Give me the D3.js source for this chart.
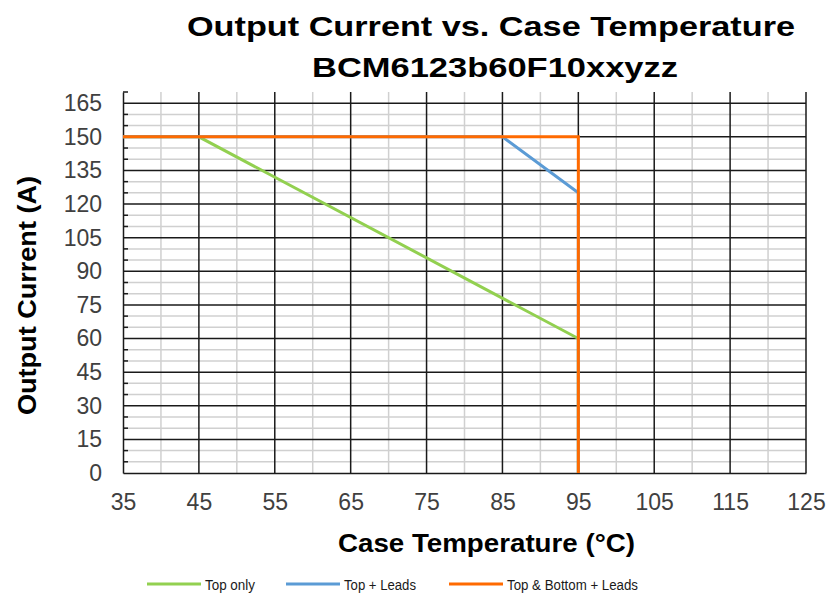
<!DOCTYPE html>
<html>
<head>
<meta charset="utf-8">
<script src="https://cdn.jsdelivr.net/npm/d3@7"></script>
<style>
  body { margin: 0; background: #fff; }
  text { font-family: "Liberation Sans", Arial, sans-serif; }
</style>
</head>
<body>
<svg id="chart"></svg>
<script>
// Data
const xTicks = [35, 45, 55, 65, 75, 85, 95, 105, 115, 125];
const yTicks = [0, 15, 30, 45, 60, 75, 90, 105, 120, 135, 150, 165];
const seriesNames = ["Top only", "Top + Leads", "Top & Bottom + Leads"];
const seriesColors = ["#92D050", "#5B9BD5", "#FF6A00"];
const topOnly = [[35, 150], [45, 150], [95, 60], [95, 0]];
const topLeads = [[35, 150], [85, 150], [95, 125], [95, 0]];
const topBottomLeads = [[35, 150], [95, 150], [95, 0]];
const allSeries = [topOnly, topLeads, topBottomLeads];

const width = 828, height = 594;
const marginLeft = 123, marginRight = 22, marginTop = 92, marginBottom = 121;

const svg = d3.select("#chart")
    .attr("width", width)
    .attr("height", height);

const x = d3.scaleLinear()
    .domain([35, 125])
    .range([marginLeft, width - marginRight]);

const y = d3.scaleLinear()
    .domain([0, 170])
    .range([height - marginBottom, marginTop]);

// minor gridlines (every 5 units)
const minorX = d3.range(40, 125, 10);
const minorY = d3.range(5, 170, 5).filter(v => v % 15 !== 0);

svg.append("g")
  .selectAll("line")
  .data(minorX)
  .join("line")
    .attr("x1", d => x(d)).attr("x2", d => x(d))
    .attr("y1", y(170)).attr("y2", y(0))
    .attr("stroke", "#d0d0d0").attr("stroke-width", 1.5);

svg.append("g")
  .selectAll("line")
  .data(minorY)
  .join("line")
    .attr("x1", x(35)).attr("x2", x(125))
    .attr("y1", d => y(d)).attr("y2", d => y(d))
    .attr("stroke", "#d0d0d0").attr("stroke-width", 1.5);

// major gridlines
svg.append("g")
  .selectAll("line")
  .data(xTicks.slice(1))
  .join("line")
    .attr("x1", d => x(d)).attr("x2", d => x(d))
    .attr("y1", y(170)).attr("y2", y(0))
    .attr("stroke", "#1a1a1a").attr("stroke-width", 1.5);

svg.append("g")
  .selectAll("line")
  .data(yTicks.slice(1))
  .join("line")
    .attr("x1", x(35)).attr("x2", x(125))
    .attr("y1", d => y(d)).attr("y2", d => y(d))
    .attr("stroke", "#1a1a1a").attr("stroke-width", 1.5);

// minor tick marks on the y axis (inside)
svg.append("g")
  .selectAll("line")
  .data(minorY.concat([170]))
  .join("line")
    .attr("x1", x(35)).attr("x2", x(35) + 5)
    .attr("y1", d => y(d)).attr("y2", d => y(d))
    .attr("stroke", "#1a1a1a").attr("stroke-width", 1.5);

// axes
svg.append("g")
    .attr("transform", `translate(0,${y(0)})`)
    .call(d3.axisBottom(x).tickValues(xTicks).tickSize(0).tickPadding(21))
    .call(g => g.select(".domain").attr("stroke", "#1a1a1a").attr("stroke-width", 1.5))
    .call(g => g.selectAll("text").attr("font-size", 23).attr("fill", "#404040")
        .attr("font-family", "Liberation Sans, Arial, sans-serif"));

svg.append("g")
    .attr("transform", `translate(${x(35)},0)`)
    .call(d3.axisLeft(y).tickValues(yTicks).tickSize(0).tickPadding(21))
    .call(g => g.select(".domain").attr("stroke", "#1a1a1a").attr("stroke-width", 1.5))
    .call(g => g.selectAll("text").attr("font-size", 23).attr("fill", "#404040")
        .attr("font-family", "Liberation Sans, Arial, sans-serif"));

// series lines
const line = d3.line().x(d => x(d[0])).y(d => y(d[1]));
svg.append("g")
  .selectAll("path")
  .data(allSeries)
  .join("path")
    .attr("d", line)
    .attr("fill", "none")
    .attr("stroke", (d, i) => seriesColors[i])
    .attr("stroke-width", 3);

// titles
svg.append("text")
    .attr("x", 187).attr("y", 36)
    .attr("font-size", 28).attr("font-weight", "bold")
    .attr("textLength", 608).attr("lengthAdjust", "spacingAndGlyphs")
    .text("Output Current vs. Case Temperature");
svg.append("text")
    .attr("x", 312).attr("y", 77)
    .attr("font-size", 28).attr("font-weight", "bold")
    .attr("textLength", 366).attr("lengthAdjust", "spacingAndGlyphs")
    .text("BCM6123b60F10xxyzz");

svg.append("text")
    .attr("x", 338).attr("y", 552)
    .attr("font-size", 26).attr("font-weight", "bold")
    .attr("textLength", 297).attr("lengthAdjust", "spacingAndGlyphs")
    .text("Case Temperature (°C)");

svg.append("text")
    .attr("transform", "translate(36,415) rotate(-90)")
    .attr("font-size", 26).attr("font-weight", "bold")
    .attr("textLength", 239).attr("lengthAdjust", "spacingAndGlyphs")
    .text("Output Current (A)");

// legend
const legendX = [147, 286, 449];
const legendTextLen = [50, 72, 131];
const legend = svg.append("g")
  .selectAll("g")
  .data(seriesNames)
  .join("g")
    .attr("transform", (d, i) => `translate(${legendX[i]},584)`);
legend.append("line")
    .attr("x1", 0).attr("x2", 54)
    .attr("stroke", (d, i) => seriesColors[i])
    .attr("stroke-width", 3);
legend.append("text")
    .attr("x", 58).attr("y", 5.5)
    .attr("font-size", 14).attr("fill", "#1a1a1a")
    .attr("textLength", (d, i) => legendTextLen[i]).attr("lengthAdjust", "spacingAndGlyphs")
    .text(d => d);
</script>
</body>
</html>
